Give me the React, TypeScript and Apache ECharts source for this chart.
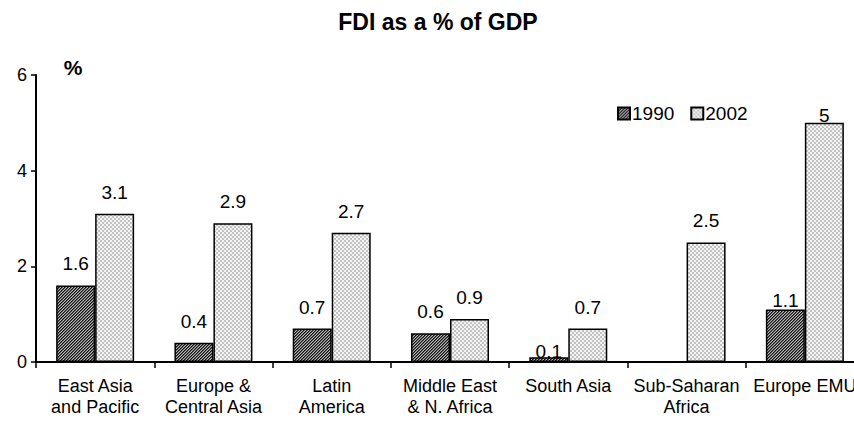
import React, { useEffect, useRef } from "react";
import * as echarts from "echarts";

const categories = [
  "East Asia\nand Pacific",
  "Europe &\nCentral Asia",
  "Latin\nAmerica",
  "Middle East\n& N. Africa",
  "South Asia",
  "Sub-Saharan\nAfrica",
  "Europe EMU",
];
const seriesNames = ["1990", "2002"];
const values1990: (number | null)[] = [1.6, 0.4, 0.7, 0.6, 0.1, null, 1.1];
const values2002: number[] = [3.1, 2.9, 2.7, 0.9, 0.7, 2.5, 5];
const yTicks = { min: 0, max: 6, interval: 2 };

// label gap above each bar (px), style only
const labelGap1990 = [12, 12, 12, 12, -4, 12, -1];
const labelGap2002 = [12, 12, 12, 12, 12, 12, -2];

const FONT = "'Liberation Sans', Arial, sans-serif";

function makeTile(kind: "hatch" | "dots") {
  const c = document.createElement("canvas");
  const n = kind === "hatch" ? 3 : 4;
  c.width = n;
  c.height = n;
  const ctx = c.getContext("2d")!;
  for (let x = 0; x < n; x++) {
    for (let y = 0; y < n; y++) {
      let col: string;
      if (kind === "hatch") {
        const k = (x + y) % 3;
        col = k === 0 ? "#111111" : k === 1 ? "#5c5c5c" : "#b8b8b8";
      } else {
        const bx = Math.floor(x / 2);
        const by = Math.floor(y / 2);
        col = (bx + by) % 2 === 0 ? "#c2c2c2" : "#f3f3f3";
      }
      ctx.fillStyle = col;
      ctx.fillRect(x, y, 1, 1);
    }
  }
  return c;
}

export default function App() {
  const ref = useRef<HTMLDivElement>(null);
  useEffect(() => {
    if (!ref.current) return;
    const chart = echarts.init(ref.current, null, { renderer: "svg" });
    const hatch = makeTile("hatch");
    const dots = makeTile("dots");
    const mk = (vals: (number | null)[], gaps: number[]) =>
      vals.map((v, i) => ({
        value: v === null ? "-" : v,
        label: { distance: gaps[i] },
      }));
    const barStyle = (tile: HTMLCanvasElement) => ({
      color: { image: tile, repeat: "repeat", imageWidth: tile.width, imageHeight: tile.height } as any,
      borderColor: "#000",
      borderWidth: 1.5,
    });
    const label = {
      show: true,
      position: "top",
      color: "#000",
      fontSize: 19,
      fontFamily: FONT,
    };
    chart.setOption({
      animation: false,
      textStyle: { fontFamily: FONT, color: "#000" },
      graphic: [
        {
          type: "text",
          x: 438,
          y: 22,
          style: {
            text: "FDI as a % of GDP",
            font: `bold 23px ${FONT}`,
            fill: "#000",
            textAlign: "center",
            textVerticalAlign: "middle",
          },
        },
        {
          type: "text",
          x: 73,
          y: 67,
          style: {
            text: "%",
            font: `bold 21px ${FONT}`,
            fill: "#000",
            textAlign: "center",
            textVerticalAlign: "middle",
          },
        },
      ],
      legend: {
        left: 612,
        top: 99,
        itemWidth: 12,
        itemHeight: 12,
        itemGap: 16,
        icon: "rect",
        textStyle: { fontSize: 19, color: "#000", fontFamily: FONT, padding: [0, 0, 0, -3] },
        data: seriesNames,
      },
      grid: {
        left: 36,
        right: -10,
        top: 75,
        bottom: 59,
        outerBoundsMode: "none",
      } as any,
      xAxis: {
        type: "category",
        data: categories,
        axisLine: { lineStyle: { color: "#000", width: 2 } },
        axisTick: { show: true, length: 6, lineStyle: { color: "#000", width: 1.5 } },
        axisLabel: {
          interval: 0,
          fontSize: 18,
          lineHeight: 21,
          color: "#000",
          margin: 13,
          fontFamily: FONT,
        },
      },
      yAxis: {
        type: "value",
        min: yTicks.min,
        max: yTicks.max,
        interval: yTicks.interval,
        splitLine: { show: false },
        axisLine: { show: true, lineStyle: { color: "#000", width: 2 } },
        axisTick: { show: true, length: 5, lineStyle: { color: "#000", width: 1.5 } },
        axisLabel: { fontSize: 18, color: "#000", margin: 9, fontFamily: FONT },
      },
      series: [
        {
          name: seriesNames[0],
          type: "bar",
          barWidth: 39,
          barGap: "0%",
          data: mk(values1990, labelGap1990),
          itemStyle: barStyle(hatch),
          label,
        },
        {
          name: seriesNames[1],
          type: "bar",
          barWidth: 39,
          barGap: "0%",
          data: mk(values2002, labelGap2002),
          itemStyle: barStyle(dots),
          label,
        },
      ],
    });
    return () => chart.dispose();
  }, []);
  return (
    <div
      ref={ref}
      style={{ position: "fixed", left: 0, top: 0, width: 854, height: 421, background: "#fff" }}
    />
  );
}
